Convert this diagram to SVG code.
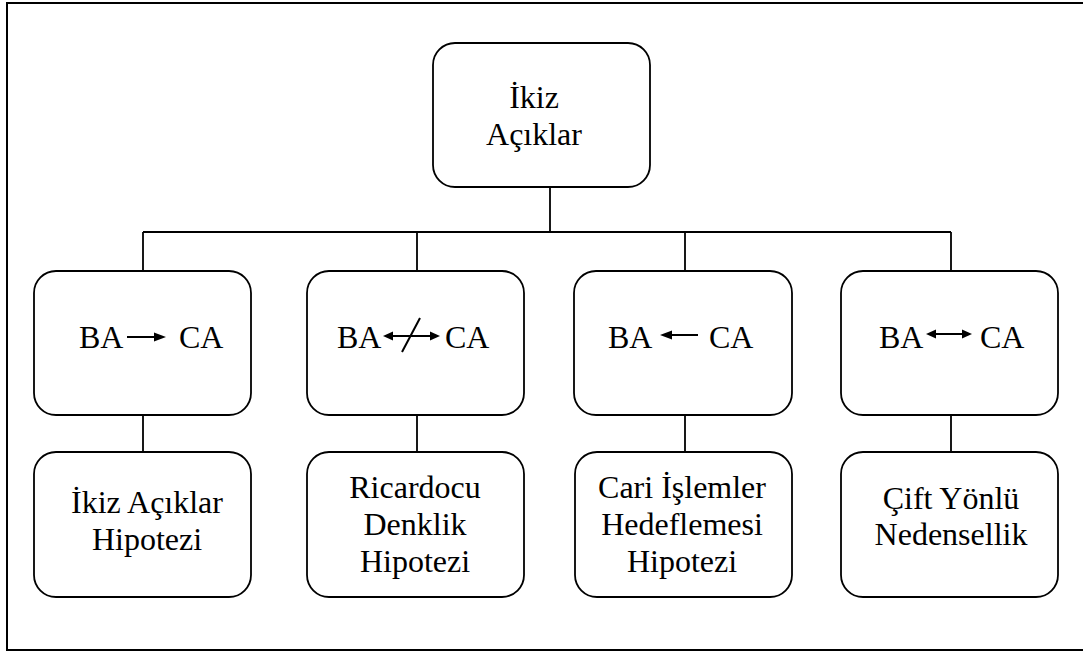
<svg xmlns="http://www.w3.org/2000/svg" width="1083" height="652" viewBox="0 0 1083 652">
<style>
.box{fill:#fff;stroke:#000;stroke-width:1.8}
.ln{fill:none;stroke:#000;stroke-width:1.8}
.ar{fill:none;stroke:#000;stroke-width:2}
.hd{fill:#000}
.c{text-anchor:middle}
</style>
<rect x="0" y="0" width="1083" height="652" fill="#fff"/>
<rect x="7" y="3" width="1090" height="647" fill="none" stroke="#000" stroke-width="2"/>
<g id="connectors">
<path class="ln" d="M550 187V232M143 232H951M143 232V271M417 232V271M685 232V271M951 232V271"/>
<path class="ln" d="M143 415V452M417 415V452M685 415V452M951 415V452"/>
</g>
<g font-family="'Liberation Serif', 'Times New Roman', 'DejaVu Serif', serif" font-size="32" fill="#000">
<g id="root">
<rect class="box" x="433" y="43" width="217" height="144" rx="22"/>
<text class="c" x="534" y="108">İkiz</text>
<text class="c" x="534" y="145">Açıklar</text>
</g>
<g id="m1">
<rect class="box" x="34" y="271" width="217" height="144" rx="22"/>
<text x="79" y="348">BA</text>
<line class="ar" x1="127" y1="337" x2="156" y2="337"/>
<polygon class="hd" points="166,337 154,332.5 154,341.5"/>
<text x="179" y="348">CA</text>
</g>
<g id="m2">
<rect class="box" x="307" y="271" width="217" height="144" rx="22"/>
<text x="337" y="348">BA</text>
<line class="ar" x1="390" y1="336" x2="432" y2="336"/>
<polygon class="hd" points="383,336 393,331.5 393,340.5"/>
<polygon class="hd" points="440,336 430,331.5 430,340.5"/>
<line class="ar" x1="402" y1="352" x2="420" y2="318"/>
<text x="445" y="348">CA</text>
</g>
<g id="m3">
<rect class="box" x="574" y="271" width="218" height="144" rx="22"/>
<text x="608" y="348">BA</text>
<line class="ar" x1="670" y1="335" x2="698" y2="335"/>
<polygon class="hd" points="660,335 672,330.5 672,339.5"/>
<text x="709" y="348">CA</text>
</g>
<g id="m4">
<rect class="box" x="841" y="271" width="217" height="144" rx="22"/>
<text x="879" y="348">BA</text>
<line class="ar" x1="932" y1="334" x2="965" y2="334"/>
<polygon class="hd" points="926,334 936,329.5 936,338.5"/>
<polygon class="hd" points="972,334 962,329.5 962,338.5"/>
<text x="980" y="348">CA</text>
</g>
<g id="b1">
<rect class="box" x="34" y="452" width="217" height="145" rx="22"/>
<text class="c" x="147" y="513">İkiz Açıklar</text>
<text class="c" x="147" y="550">Hipotezi</text>
</g>
<g id="b2">
<rect class="box" x="307" y="452" width="217" height="145" rx="22"/>
<text class="c" x="415" y="498">Ricardocu</text>
<text class="c" x="415" y="535">Denklik</text>
<text class="c" x="415" y="572">Hipotezi</text>
</g>
<g id="b3">
<rect class="box" x="575" y="452" width="217" height="145" rx="22"/>
<text class="c" x="682" y="498">Cari İşlemler</text>
<text class="c" x="682" y="535">Hedeflemesi</text>
<text class="c" x="682" y="572">Hipotezi</text>
</g>
<g id="b4">
<rect class="box" x="841" y="452" width="217" height="145" rx="22"/>
<text class="c" x="951" y="509">Çift Yönlü</text>
<text class="c" x="951" y="545">Nedensellik</text>
</g>
</g>
</svg>
